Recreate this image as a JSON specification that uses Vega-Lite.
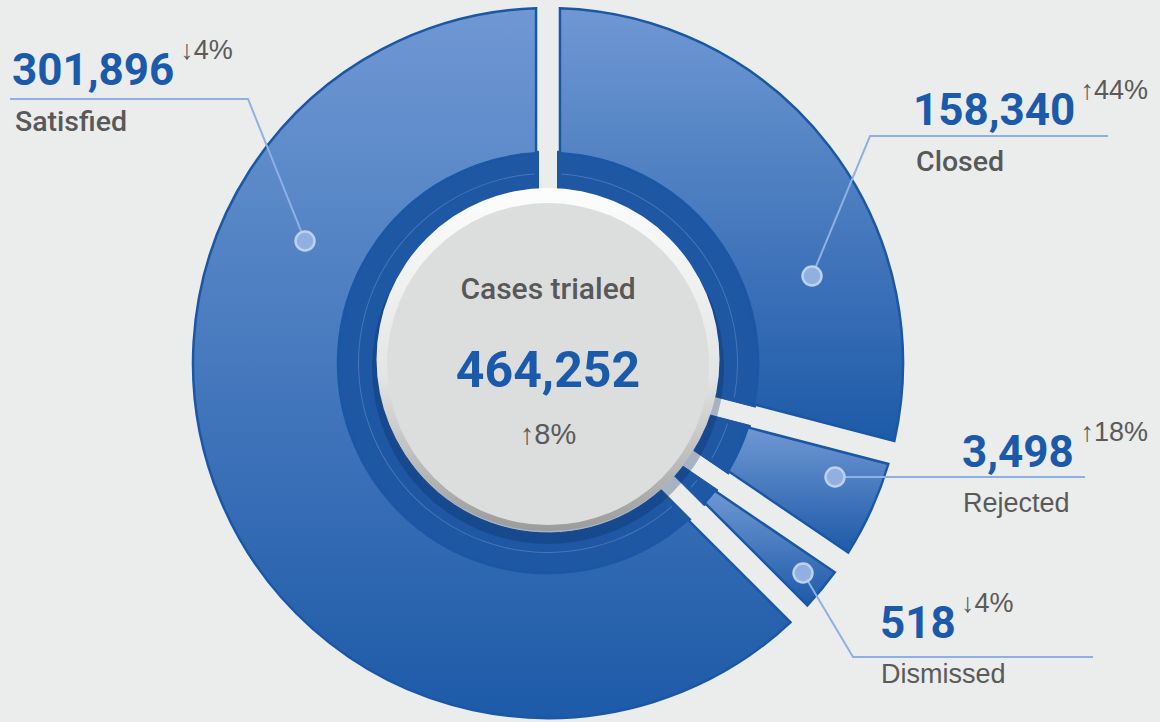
{
  "$schema": "https://vega.github.io/schema/vega-lite/v6.json",
  "width": 1160,
  "height": 722,
  "padding": 0,
  "autosize": "none",
  "background": "#ebecec",
  "config": {"view": {"stroke": null}},
  "datasets": {
    "slices": [
      {"category": "Closed", "value": 158340, "change": "↑44%", "deg": 104.6, "rank": 1},
      {"category": "Rejected", "value": 3498, "change": "↑18%", "deg": 19.6, "rank": 2},
      {"category": "Dismissed", "value": 518, "change": "↓4%", "deg": 10.8, "rank": 3},
      {"category": "Satisfied", "value": 301896, "change": "↓4%", "deg": 225, "rank": 4}
    ],
    "callouts": [
      {"category": "Satisfied", "nx": -150.99, "ny": 78.31, "cx": -103.6, "mu": -68.45, "mv": 34.37, "emph": "strong"},
      {"category": "Closed", "nx": 102.82, "ny": 67.04, "cx": 150.0, "mu": 74.37, "mv": 24.51, "emph": "strong"},
      {"category": "Rejected", "nx": 116.62, "ny": -29.3, "cx": 150.0, "mu": 80.85, "mv": -32.11, "emph": "plain"},
      {"category": "Dismissed", "nx": 93.52, "ny": -77.46, "cx": 116.3, "mu": 71.83, "mv": -59.15, "emph": "plain"}
    ],
    "leaders": [
      {"category": "Satisfied", "i": 1, "u": -151.55, "v": 74.37},
      {"category": "Satisfied", "i": 2, "u": -84.51, "v": 74.37},
      {"category": "Satisfied", "i": 3, "u": -68.45, "v": 34.37},
      {"category": "Closed", "i": 1, "u": 157.75, "v": 63.94},
      {"category": "Closed", "i": 2, "u": 90.7, "v": 63.94},
      {"category": "Closed", "i": 3, "u": 74.37, "v": 24.51},
      {"category": "Rejected", "i": 1, "u": 151.27, "v": -32.11},
      {"category": "Rejected", "i": 2, "u": 80.85, "v": -32.11},
      {"category": "Dismissed", "i": 1, "u": 71.83, "v": -59.15},
      {"category": "Dismissed", "i": 2, "u": 85.92, "v": -82.82},
      {"category": "Dismissed", "i": 3, "u": 153.52, "v": -82.82}
    ],
    "summary": [{"label": "Cases trialed", "total": 464252, "change": "↑8%"}]
  },
  "layer": [
    {
      "data": {"name": "slices"},
      "transform": [{"stack": "deg", "groupby": [], "sort": [{"field": "rank", "order": "ascending"}], "as": ["a0", "a1"]}],
      "mark": {"type": "arc", "radius": 212, "radius2": 170, "padAngle": 0.07, "fill": "#1e57a3", "stroke": "#1b54a0", "strokeWidth": 1},
      "encoding": {
        "x": {"datum": 0, "type": "quantitative", "scale": {"domain": [-154.37, 172.39], "nice": false, "zero": false}, "axis": null},
        "y": {"datum": 0, "type": "quantitative", "scale": {"domain": [-101.13, 102.25], "nice": false, "zero": false}, "axis": null},
        "theta": {"field": "a0", "type": "quantitative", "stack": null, "scale": {"domain": [0, 360], "range": [0, 6.283185307]}},
        "theta2": {"field": "a1"}
      }
    },
    {
      "data": {"name": "slices"},
      "transform": [{"stack": "deg", "groupby": [], "sort": [{"field": "rank", "order": "ascending"}], "as": ["a0", "a1"]}],
      "mark": {"type": "arc", "radius": 190, "radius2": 189, "padAngle": 0.1, "fill": "#8fb0e3", "fillOpacity": 0.35},
      "encoding": {
        "x": {"datum": 0, "type": "quantitative"},
        "y": {"datum": 0, "type": "quantitative"},
        "theta": {"field": "a0", "type": "quantitative", "stack": null, "scale": {"domain": [0, 360], "range": [0, 6.283185307]}},
        "theta2": {"field": "a1"}
      }
    },
    {
      "data": {"name": "slices"},
      "transform": [{"stack": "deg", "groupby": [], "sort": [{"field": "rank", "order": "ascending"}], "as": ["a0", "a1"]}],
      "mark": {
        "type": "arc", "radius": 355, "radius2": 210, "padAngle": 0.058,
        "fill": {"gradient": "linear", "x1": 0, "y1": 0, "x2": 0, "y2": 1, "stops": [{"offset": 0, "color": "#6f98d3"}, {"offset": 1, "color": "#1d5aa8"}]},
        "stroke": "#1a57a6", "strokeWidth": 2.5
      },
      "encoding": {
        "x": {"datum": 0, "type": "quantitative"},
        "y": {"datum": 0, "type": "quantitative"},
        "theta": {"field": "a0", "type": "quantitative", "stack": null, "scale": {"domain": [0, 360], "range": [0, 6.283185307]}},
        "theta2": {"field": "a1"}
      }
    },
    {
      "data": {"name": "summary"},
      "mark": {"type": "arc", "theta": 0, "theta2": 6.2832, "radius": 176, "fill": "#0b2c60", "opacity": 0.3},
      "encoding": {
        "x": {"datum": 0, "type": "quantitative"},
        "y": {"datum": -1.4, "type": "quantitative"}
      }
    },
    {
      "data": {"name": "summary"},
      "mark": {
        "type": "arc", "theta": 0, "theta2": 6.2832, "radius": 171.5,
        "fill": {"gradient": "linear", "x1": 0, "y1": 0, "x2": 0, "y2": 1, "stops": [{"offset": 0, "color": "#fdfdfd"}, {"offset": 0.55, "color": "#e3e4e4"}, {"offset": 1, "color": "#9b9b9b"}]}
      },
      "encoding": {
        "x": {"datum": 0, "type": "quantitative"},
        "y": {"datum": 1.0, "type": "quantitative"}
      }
    },
    {
      "data": {"name": "summary"},
      "mark": {"type": "arc", "theta": 0, "theta2": 6.2832, "radius": 161, "fill": "#dcdddd"},
      "encoding": {
        "x": {"datum": 0, "type": "quantitative"},
        "y": {"datum": -0.3, "type": "quantitative"}
      }
    },
    {
      "data": {"name": "summary"},
      "mark": {"type": "text", "align": "center", "baseline": "alphabetic", "dy": -64, "font": "Roboto", "fontWeight": 500, "fontSize": 30, "fill": "#585858"},
      "encoding": {
        "x": {"datum": 0, "type": "quantitative"},
        "y": {"datum": 0, "type": "quantitative"},
        "text": {"field": "label"}
      }
    },
    {
      "data": {"name": "summary"},
      "mark": {"type": "text", "align": "center", "baseline": "alphabetic", "dy": 24, "font": "Roboto", "fontWeight": 700, "fontSize": 50, "fill": "#1b5aab"},
      "encoding": {
        "x": {"datum": 0, "type": "quantitative"},
        "y": {"datum": 0, "type": "quantitative"},
        "text": {"field": "total", "type": "quantitative", "format": ","}
      }
    },
    {
      "data": {"name": "summary"},
      "mark": {"type": "text", "align": "center", "baseline": "alphabetic", "dy": 81, "font": "Liberation Sans", "fontSize": 29, "fill": "#5a5a5a"},
      "encoding": {
        "x": {"datum": 0, "type": "quantitative"},
        "y": {"datum": 0, "type": "quantitative"},
        "text": {"field": "change"}
      }
    },
    {
      "data": {"name": "leaders"},
      "mark": {"type": "line", "stroke": "#8eb0e3", "strokeWidth": 2},
      "encoding": {
        "x": {"field": "u", "type": "quantitative"},
        "y": {"field": "v", "type": "quantitative"},
        "detail": {"field": "category"},
        "order": {"field": "i", "type": "quantitative"}
      }
    },
    {
      "data": {"name": "callouts"},
      "mark": {"type": "point", "shape": "circle", "filled": true, "size": 360, "fill": "#8fb0e1", "stroke": "#bcd0ef", "strokeWidth": 2.5, "opacity": 1},
      "encoding": {
        "x": {"field": "mu", "type": "quantitative"},
        "y": {"field": "mv", "type": "quantitative"}
      }
    },
    {
      "data": {"name": "callouts"},
      "transform": [{"lookup": "category", "from": {"data": {"name": "slices"}, "key": "category", "fields": ["value", "change"]}}],
      "mark": {"type": "text", "align": "left", "baseline": "alphabetic", "font": "Roboto", "fontWeight": 700, "fontSize": 44, "fill": "#1b5aab"},
      "encoding": {
        "x": {"field": "nx", "type": "quantitative"},
        "y": {"field": "ny", "type": "quantitative"},
        "text": {"field": "value", "type": "quantitative", "format": ","}
      }
    },
    {
      "data": {"name": "callouts"},
      "transform": [{"lookup": "category", "from": {"data": {"name": "slices"}, "key": "category", "fields": ["value", "change"]}}],
      "mark": {"type": "text", "align": "left", "baseline": "alphabetic", "dy": -26, "font": "Liberation Sans", "fontSize": 27, "fill": "#5a5a5a"},
      "encoding": {
        "x": {"field": "cx", "type": "quantitative"},
        "y": {"field": "ny", "type": "quantitative"},
        "text": {"field": "change"}
      }
    },
    {
      "data": {"name": "callouts"},
      "transform": [{"filter": "datum.emph === 'strong'"}],
      "mark": {"type": "text", "align": "left", "baseline": "alphabetic", "dy": 46, "dx": 3, "font": "Roboto", "fontWeight": 500, "fontSize": 28.5, "fill": "#585858"},
      "encoding": {
        "x": {"field": "nx", "type": "quantitative"},
        "y": {"field": "ny", "type": "quantitative"},
        "text": {"field": "category"}
      }
    },
    {
      "data": {"name": "callouts"},
      "transform": [{"filter": "datum.emph === 'plain'"}],
      "mark": {"type": "text", "align": "left", "baseline": "alphabetic", "dy": 45, "dx": 1, "font": "Liberation Sans", "fontSize": 27, "fill": "#5a5a5a"},
      "encoding": {
        "x": {"field": "nx", "type": "quantitative"},
        "y": {"field": "ny", "type": "quantitative"},
        "text": {"field": "category"}
      }
    }
  ]
}
